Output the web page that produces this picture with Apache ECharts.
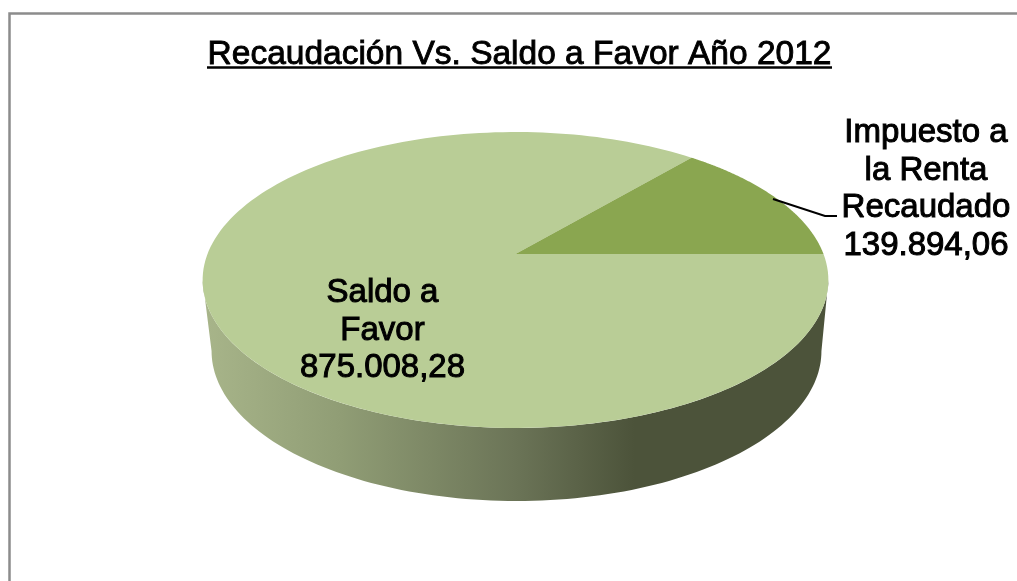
<!DOCTYPE html>
<html>
<head>
<meta charset="utf-8">
<style>html,body{margin:0;padding:0;background:#fff}#c{width:1017px;height:581px}</style>
<script src="https://cdn.jsdelivr.net/npm/echarts@6/dist/echarts.min.js"></script>
</head>
<body>
<div id="c"></div>
<script>
// ---- data ----
const chartTitle = 'Recaudación Vs. Saldo a Favor Año 2012';
const categories = ['Impuesto a\nla Renta\nRecaudado', 'Saldo a\nFavor'];
const values = [139894.06, 875008.28];

// ---- look ----
const font = '"Liberation Sans", Arial, sans-serif';
const sliceColors = ['#8aa650', '#b9cd96'];
const labelAnchors = [[926, 189.5], [382.5, 330.5]];
const K = 0.1757;                                   // perspective of the tilted disc
const topDisc = {x0: 515.5, y0: 254, B: 308, A: 143.4};
const baseDisc = {x0: 516.5, y0: 324.6, B: 300.2, A: 145.4};
const project = (d, a) => {
  const u = Math.cos(a), v = Math.sin(a), w = 1 + K * v;
  return [d.x0 + d.B * u / w, d.y0 - d.A * v / w];
};
const arc = (d, a0, a1, n) => {
  const pts = [];
  for (let i = 0; i <= n; i++) pts.push(project(d, a0 + (a1 - a0) * i / n));
  return pts;
};
const fmt = v => {
  const [i, f] = v.toFixed(2).split('.');
  return i.replace(/\B(?=(\d{3})+$)/g, '.') + ',' + f;
};
const total = values.reduce((a, b) => a + b, 0);

const chart = echarts.init(document.getElementById('c'), null, {renderer: 'canvas'});
chart.setOption({
  animation: false,
  backgroundColor: '#ffffff',
  title: {
    text: chartTitle, left: 514.5, top: 33, textAlign: 'center',
    textStyle: {fontFamily: font, fontSize: 33.5, fontWeight: 'normal', color: '#000',
      textBorderColor: '#000', textBorderWidth: 0.9}
  },
  graphic: [
    {type: 'line', shape: {x1: 207, y1: 67.5, x2: 832, y2: 67.5}, style: {stroke: '#000', lineWidth: 2.5}},
    {type: 'polyline', shape: {points: [[9.5, 581], [9.5, 13.5], [1017, 13.5]]},
      style: {stroke: '#8c8c8c', lineWidth: 2.5, fill: null}},
    {type: 'polyline', z: 20, shape: {points: [[773, 199], [825, 216], [837, 216]]},
      style: {stroke: '#000', lineWidth: 2, fill: null}}
  ],
  series: [
    {
      // side wall of the disc
      type: 'custom', coordinateSystem: 'none', silent: true, z: 1,
      data: [total],
      renderItem: () => {
        const s = Math.PI + Math.asin(K), e = Math.PI * 2 - Math.asin(K);
        const upper = arc(topDisc, s, e, 120);
        const lower = arc(baseDisc, e, s, 120);
        return {
          type: 'polygon',
          shape: {points: upper.concat(lower)},
          style: {
            fill: new echarts.graphic.LinearGradient(0, 0, 1, 0, [
              {offset: 0, color: '#a8b58a'},
              {offset: 0.22, color: '#909d75'},
              {offset: 0.5, color: '#6b7457'},
              {offset: 0.69, color: '#4c533a'},
              {offset: 1, color: '#4c533a'}
            ])
          }
        };
      }
    },
    {
      // top face slices: the sweep of each slice comes from its value
      type: 'custom', coordinateSystem: 'none', silent: true, z: 2,
      data: values,
      renderItem: (params, api) => {
        const i = params.dataIndex;
        const before = values.slice(0, i).reduce((a, b) => a + b, 0);
        const a0 = before / total * Math.PI * 2;
        const a1 = (before + api.value(0)) / total * Math.PI * 2;
        const apex = [topDisc.x0, topDisc.y0];
        const pts = [apex].concat(arc(topDisc, a0, a1, 180));
        return {
          type: 'group',
          children: [
            {type: 'polygon', shape: {points: pts}, z2: i === 0 ? 2 : 1,
              style: {fill: sliceColors[i]}},
            {type: 'text', z2: 10, x: labelAnchors[i][0], y: labelAnchors[i][1],
              style: {
                text: categories[i] + '\n' + fmt(values[i]),
                fontFamily: font, fontSize: 33, lineHeight: 37.5, fill: '#000',
                align: 'center', verticalAlign: 'middle',
                stroke: '#000', lineWidth: 1
              }}
          ]
        };
      }
    }
  ]
});
</script>
</body>
</html>
